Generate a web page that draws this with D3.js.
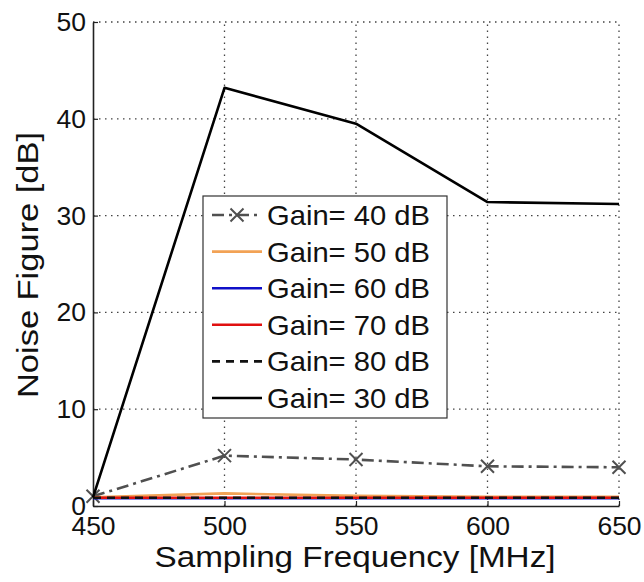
<!DOCTYPE html>
<html>
<head>
<meta charset="utf-8">
<script src="https://cdn.jsdelivr.net/npm/d3@7"></script>
<style>
  html, body { margin: 0; padding: 0; background: #fff; }
  svg { display: block; font-family: Arial, "Liberation Sans", Helvetica, sans-serif; }
</style>
</head>
<body>
<svg id="chart" width="644" height="582"></svg>
<script>
// Sampling frequencies (MHz) on the x axis
const freqs = [450, 500, 550, 600, 650];

// Noise figure (dB) for each gain setting
const gain40 = [1.0, 5.2, 4.8, 4.1, 4.0];
const gain50 = [0.9, 1.3, 1.05, 0.95, 0.95];
const gain60 = [0.8, 0.8, 0.8, 0.8, 0.8];
const gain70 = [0.85, 0.85, 0.85, 0.85, 0.85];
const gain80 = [0.85, 0.85, 0.85, 0.85, 0.85];
const gain30 = [0.9, 43.2, 39.5, 31.4, 31.2];

const legendLabels = ["Gain= 40 dB", "Gain= 50 dB", "Gain= 60 dB", "Gain= 70 dB", "Gain= 80 dB", "Gain= 30 dB"];
const xTicks = [450, 500, 550, 600, 650];
const yTicks = [0, 10, 20, 30, 40, 50];

const series = [
  { name: legendLabels[0], values: gain40, color: "#505050", width: 2.6, dash: "12,5,3,5", marker: true },
  { name: legendLabels[1], values: gain50, color: "#f2a255", width: 2.6, dash: null, marker: false },
  { name: legendLabels[2], values: gain60, color: "#1010c8", width: 2.6, dash: null, marker: false },
  { name: legendLabels[3], values: gain70, color: "#e01010", width: 2.6, dash: null, marker: false },
  { name: legendLabels[4], values: gain80, color: "#111111", width: 2.6, dash: "8,6", marker: false },
  { name: legendLabels[5], values: gain30, color: "#000000", width: 2.6, dash: null, marker: false }
];

const svg = d3.select("#chart");
const m = { left: 93, right: 619, top: 22, bottom: 506 };

const x = d3.scaleLinear().domain([450, 650]).range([m.left, m.right]);
const y = d3.scaleLinear().domain([0, 50]).range([m.bottom, m.top]);

// Dotted grid (also forms the top and right borders)
const grid = svg.append("g").attr("stroke", "#444").attr("stroke-width", 1.3)
  .attr("stroke-dasharray", "1.5,4.5");
xTicks.filter(t => t > 450).forEach(t => {
  grid.append("line").attr("x1", x(t)).attr("x2", x(t)).attr("y1", y(0)).attr("y2", y(50));
});
yTicks.filter(t => t > 0).forEach(t => {
  grid.append("line").attr("x1", x(450)).attr("x2", x(650)).attr("y1", y(t)).attr("y2", y(t));
});

// Axes: solid left and bottom lines, inward ticks
const xAxis = d3.axisBottom(x).tickValues(xTicks).tickSizeInner(-5).tickSizeOuter(0).tickPadding(10);
const yAxis = d3.axisLeft(y).tickValues(yTicks).tickSizeInner(-5).tickSizeOuter(0).tickPadding(7);

const gx = svg.append("g").attr("transform", `translate(0,${m.bottom})`).call(xAxis);
const gy = svg.append("g").attr("transform", `translate(${m.left},0)`).call(yAxis);
[gx, gy].forEach(g => {
  g.select(".domain").attr("stroke", "#222").attr("stroke-width", 1.6);
  g.selectAll(".tick line").attr("stroke", "#222").attr("stroke-width", 1.2);
  g.selectAll(".tick text").attr("fill", "#111").attr("font-size", 26.5)
    .attr("font-family", "Arial, 'Liberation Sans', sans-serif");
});
gx.selectAll(".tick text").attr("dy", "0.71em");

// Series lines
const line = d3.line().x((d, i) => x(freqs[i])).y(d => y(d));
const plot = svg.append("g");
series.forEach(s => {
  plot.append("path")
    .attr("d", line(s.values))
    .attr("fill", "none")
    .attr("stroke", s.color)
    .attr("stroke-width", s.width)
    .attr("stroke-dasharray", s.dash)
    .attr("stroke-linejoin", "round");
  if (s.marker) {
    s.values.forEach((v, i) => {
      const cx = x(freqs[i]), cy = y(v), r = 6.5;
      plot.append("path")
        .attr("d", `M${cx - r},${cy - r}L${cx + r},${cy + r}M${cx - r},${cy + r}L${cx + r},${cy - r}`)
        .attr("stroke", s.color).attr("stroke-width", 2);
    });
  }
});

// Axis titles
svg.append("text")
  .attr("x", 355).attr("y", 567)
  .attr("text-anchor", "middle").attr("font-size", 29).attr("fill", "#111")
  .attr("textLength", 401).attr("lengthAdjust", "spacingAndGlyphs")
  .text("Sampling Frequency [MHz]");

svg.append("text")
  .attr("transform", `translate(38,${(132 + 398) / 2}) rotate(-90)`)
  .attr("text-anchor", "middle").attr("font-size", 29).attr("fill", "#111")
  .attr("textLength", 266).attr("lengthAdjust", "spacingAndGlyphs")
  .text("Noise Figure [dB]");

// Legend
const lg = svg.append("g");
lg.append("rect")
  .attr("x", 203).attr("y", 196).attr("width", 244).attr("height", 222)
  .attr("fill", "#fff").attr("stroke", "#333").attr("stroke-width", 1.2);
const rowY = d3.scaleLinear().domain([0, series.length - 1]).range([215, 398]);
series.forEach((s, i) => {
  const cy = rowY(i);
  lg.append("line")
    .attr("x1", 212).attr("x2", 262).attr("y1", cy).attr("y2", cy)
    .attr("stroke", s.color).attr("stroke-width", s.width)
    .attr("stroke-dasharray", s.dash);
  if (s.marker) {
    const cx = 237, r = 6.5;
    lg.append("path")
      .attr("d", `M${cx - r},${cy - r}L${cx + r},${cy + r}M${cx - r},${cy + r}L${cx + r},${cy - r}`)
      .attr("stroke", s.color).attr("stroke-width", 2);
  }
  lg.append("text")
    .attr("x", 267).attr("y", cy + 10)
    .attr("font-size", 28).attr("fill", "#111")
    .attr("textLength", 163).attr("lengthAdjust", "spacingAndGlyphs")
    .text(s.name);
});
</script>
</body>
</html>
